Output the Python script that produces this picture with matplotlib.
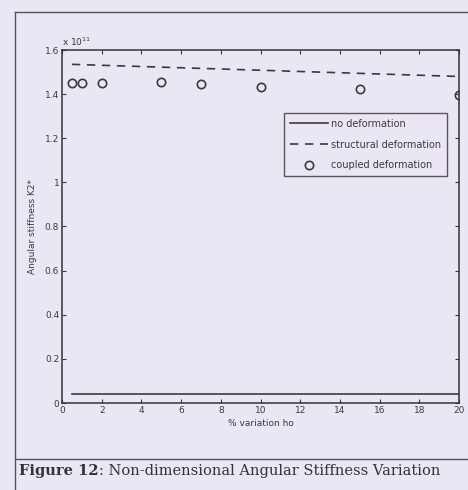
import matplotlib.pyplot as plt
from matplotlib.lines import Line2D

bg_color = '#ebe6f3'
ink = '#3a3a3a'

# values in units of 1e11
x_line = [0.5, 20]
no_def = [0.04, 0.04]
struct_def = [1.535, 1.48]

x_coupled = [0.5, 1, 2, 5, 7, 10, 15, 20]
coupled = [1.452, 1.452, 1.452, 1.455, 1.447, 1.432, 1.425, 1.395]

xticks = list(range(0, 21, 2))
yticks = [0, 0.2, 0.4, 0.6, 0.8, 1, 1.2, 1.4, 1.6]
ytick_labels = ['0', '0.2', '0.4', '0.6', '0.8', '1', '1.2', '1.4', '1.6']

fig = plt.figure(figsize=(4.68, 4.90), dpi=100)
fig.patch.set_facecolor(bg_color)

# page frame and caption separator
fig.add_artist(Line2D([15/468, 15/468], [0, 1 - 12/490], color='#555555', lw=1.0))
fig.add_artist(Line2D([15/468, 1], [1 - 12/490, 1 - 12/490], color='#555555', lw=1.0))
fig.add_artist(Line2D([15/468, 1], [1 - 459/490, 1 - 459/490], color='#555555', lw=1.0))

ax = fig.add_axes([62/468, 1 - 403/490, (459 - 62)/468, (403 - 50)/490])
ax.set_facecolor(bg_color)

ax.plot(x_line, no_def, '-', color=ink, lw=1.2, label='no deformation')
ax.plot(x_line, struct_def, '--', color=ink, lw=1.2, dashes=(5, 4), label='structural deformation')
ax.plot(x_coupled, coupled, 'o', mfc='none', mec=ink, mew=1.2, ms=6, label='coupled deformation')

ax.set_xlim(0, 20)
ax.set_ylim(0, 1.6)
ax.set_xticks(xticks)
ax.set_yticks(yticks)
ax.set_yticklabels(ytick_labels)
ax.tick_params(direction='in', top=True, right=True, length=3, labelsize=6.5,
               colors=ink, pad=2)
for s in ax.spines.values():
    s.set_color('#333333')
    s.set_linewidth(1.1)

ax.set_xlabel('% variation ho', fontsize=6.5, color=ink, labelpad=3)
ax.set_ylabel('Angular stiffness K2*', fontsize=6.5, color=ink, labelpad=6)
ax.text(0.0, 1.005, r'x 10$^{11}$', transform=ax.transAxes, fontsize=6.5,
        color=ink, va='bottom', ha='left')

leg = ax.legend(loc='upper right', bbox_to_anchor=(0.97, 0.8215), fontsize=7,
                frameon=True, fancybox=False, borderpad=0.6, borderaxespad=0,
                handlelength=3.9, labelspacing=1.1, handletextpad=0.3)
leg.get_frame().set_edgecolor('#333333')
leg.get_frame().set_facecolor(bg_color)
leg.get_frame().set_linewidth(1.0)
for t in leg.get_texts():
    t.set_color(ink)

# caption: bold part, then the rest placed right after it
cap_y = 1 - 471/490
t1 = fig.text(19/468, cap_y, 'Figure 12', fontsize=10.5, fontweight='bold',
              family='DejaVu Serif', color='#333333', va='center')
r = fig.canvas.get_renderer()
bb = t1.get_window_extent(renderer=r)
fig.text(bb.x1 / fig.bbox.width, cap_y, ': Non-dimensional Angular Stiffness Variation',
         fontsize=10.5, family='DejaVu Serif', color='#333333', va='center')

fig.savefig('out.png', dpi=100, facecolor=bg_color)
